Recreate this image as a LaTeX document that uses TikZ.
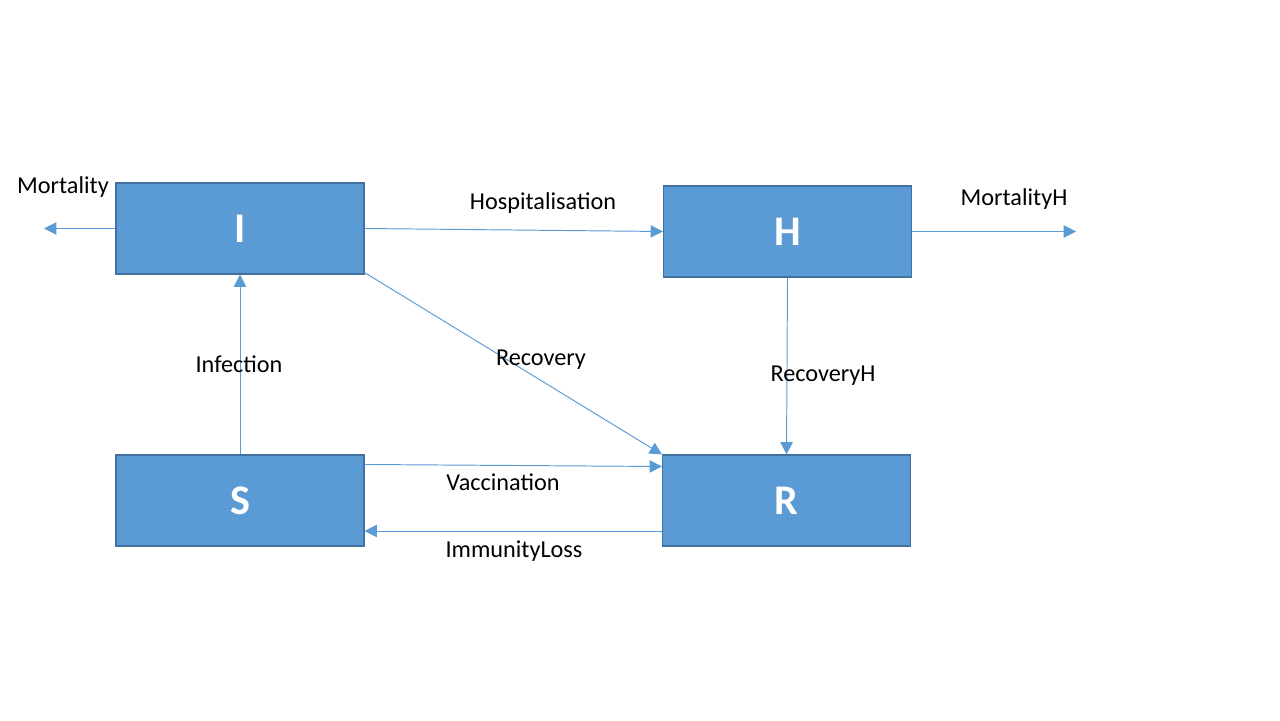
\documentclass[tikz,border=0pt]{standalone}
\usepackage{fontspec}
\setmainfont{Carlito}
\usetikzlibrary{arrows.meta,calc}
\definecolor{boxfill}{RGB}{91,155,213}
\definecolor{boxline}{RGB}{65,113,156}
\tikzset{
  compartment/.style={draw=boxline,fill=boxfill,line width=0.6pt,minimum width=4.96cm,minimum height=1.82cm,inner sep=0pt,text=white,font=\fontsize{24}{28}\selectfont\bfseries},
  flow/.style={draw=boxfill,line width=0.55pt,-{Triangle[length=7pt,width=7pt]}},
  flowlabel/.style={font=\fontsize{13.8}{16}\selectfont,inner sep=1pt}
}
\begin{document}
\begin{tikzpicture}[x=0.02cm,y=-0.02cm]
\useasboundingbox (0,0) rectangle (1280,720);
% compartments
\node[compartment] (I) at (240,228.5) {I};
\node[compartment] (H) at (787.5,231.5) {H};
\node[compartment] (S) at (240,500.5) {S};
\node[compartment] (R) at (786.5,500.5) {R};
% free ends
\coordinate (deadI) at (44,228.5);
\coordinate (deadH) at (1076,231.5);
% flows
\draw[flow] (I.west) -- (deadI); % mortality
\draw[flow] (I.east) -- (H.west); % hospitalisation
\draw[flow] (H.east) -- (deadH); % mortality in hospital
\draw[flow] ($(I.south east)+(0,-2)$) -- (R.north west); % recovery
\draw[flow] (H.south) -- (R.north); % recovery from hospital
\draw[flow] (S.north) -- (I.south); % infection
\draw[flow] ($(S.north east)+(0,10)$) -- ($(R.north west)+(0,12)$); % vaccination
\draw[flow] ($(R.west)+(0,30.5)$) -- ($(S.east)+(0,30.5)$); % immunity loss
% Labels
\node[flowlabel] (lmort) at (63,187) {Mortality};
\node[flowlabel] (lhosp) at (543,203) {Hospitalisation};
\node[flowlabel] (lmorth) at (1014,199) {MortalityH};
\node[flowlabel] (lrec) at (541,360) {Recovery};
\node[flowlabel] (lrech) at (823,376) {RecoveryH};
\node[flowlabel] (linf) at (239,364) {Infection};
\node[flowlabel] (lvac) at (503,482) {Vaccination};
\node[flowlabel] (limm) at (514,551) {ImmunityLoss};
\end{tikzpicture}
\end{document}
